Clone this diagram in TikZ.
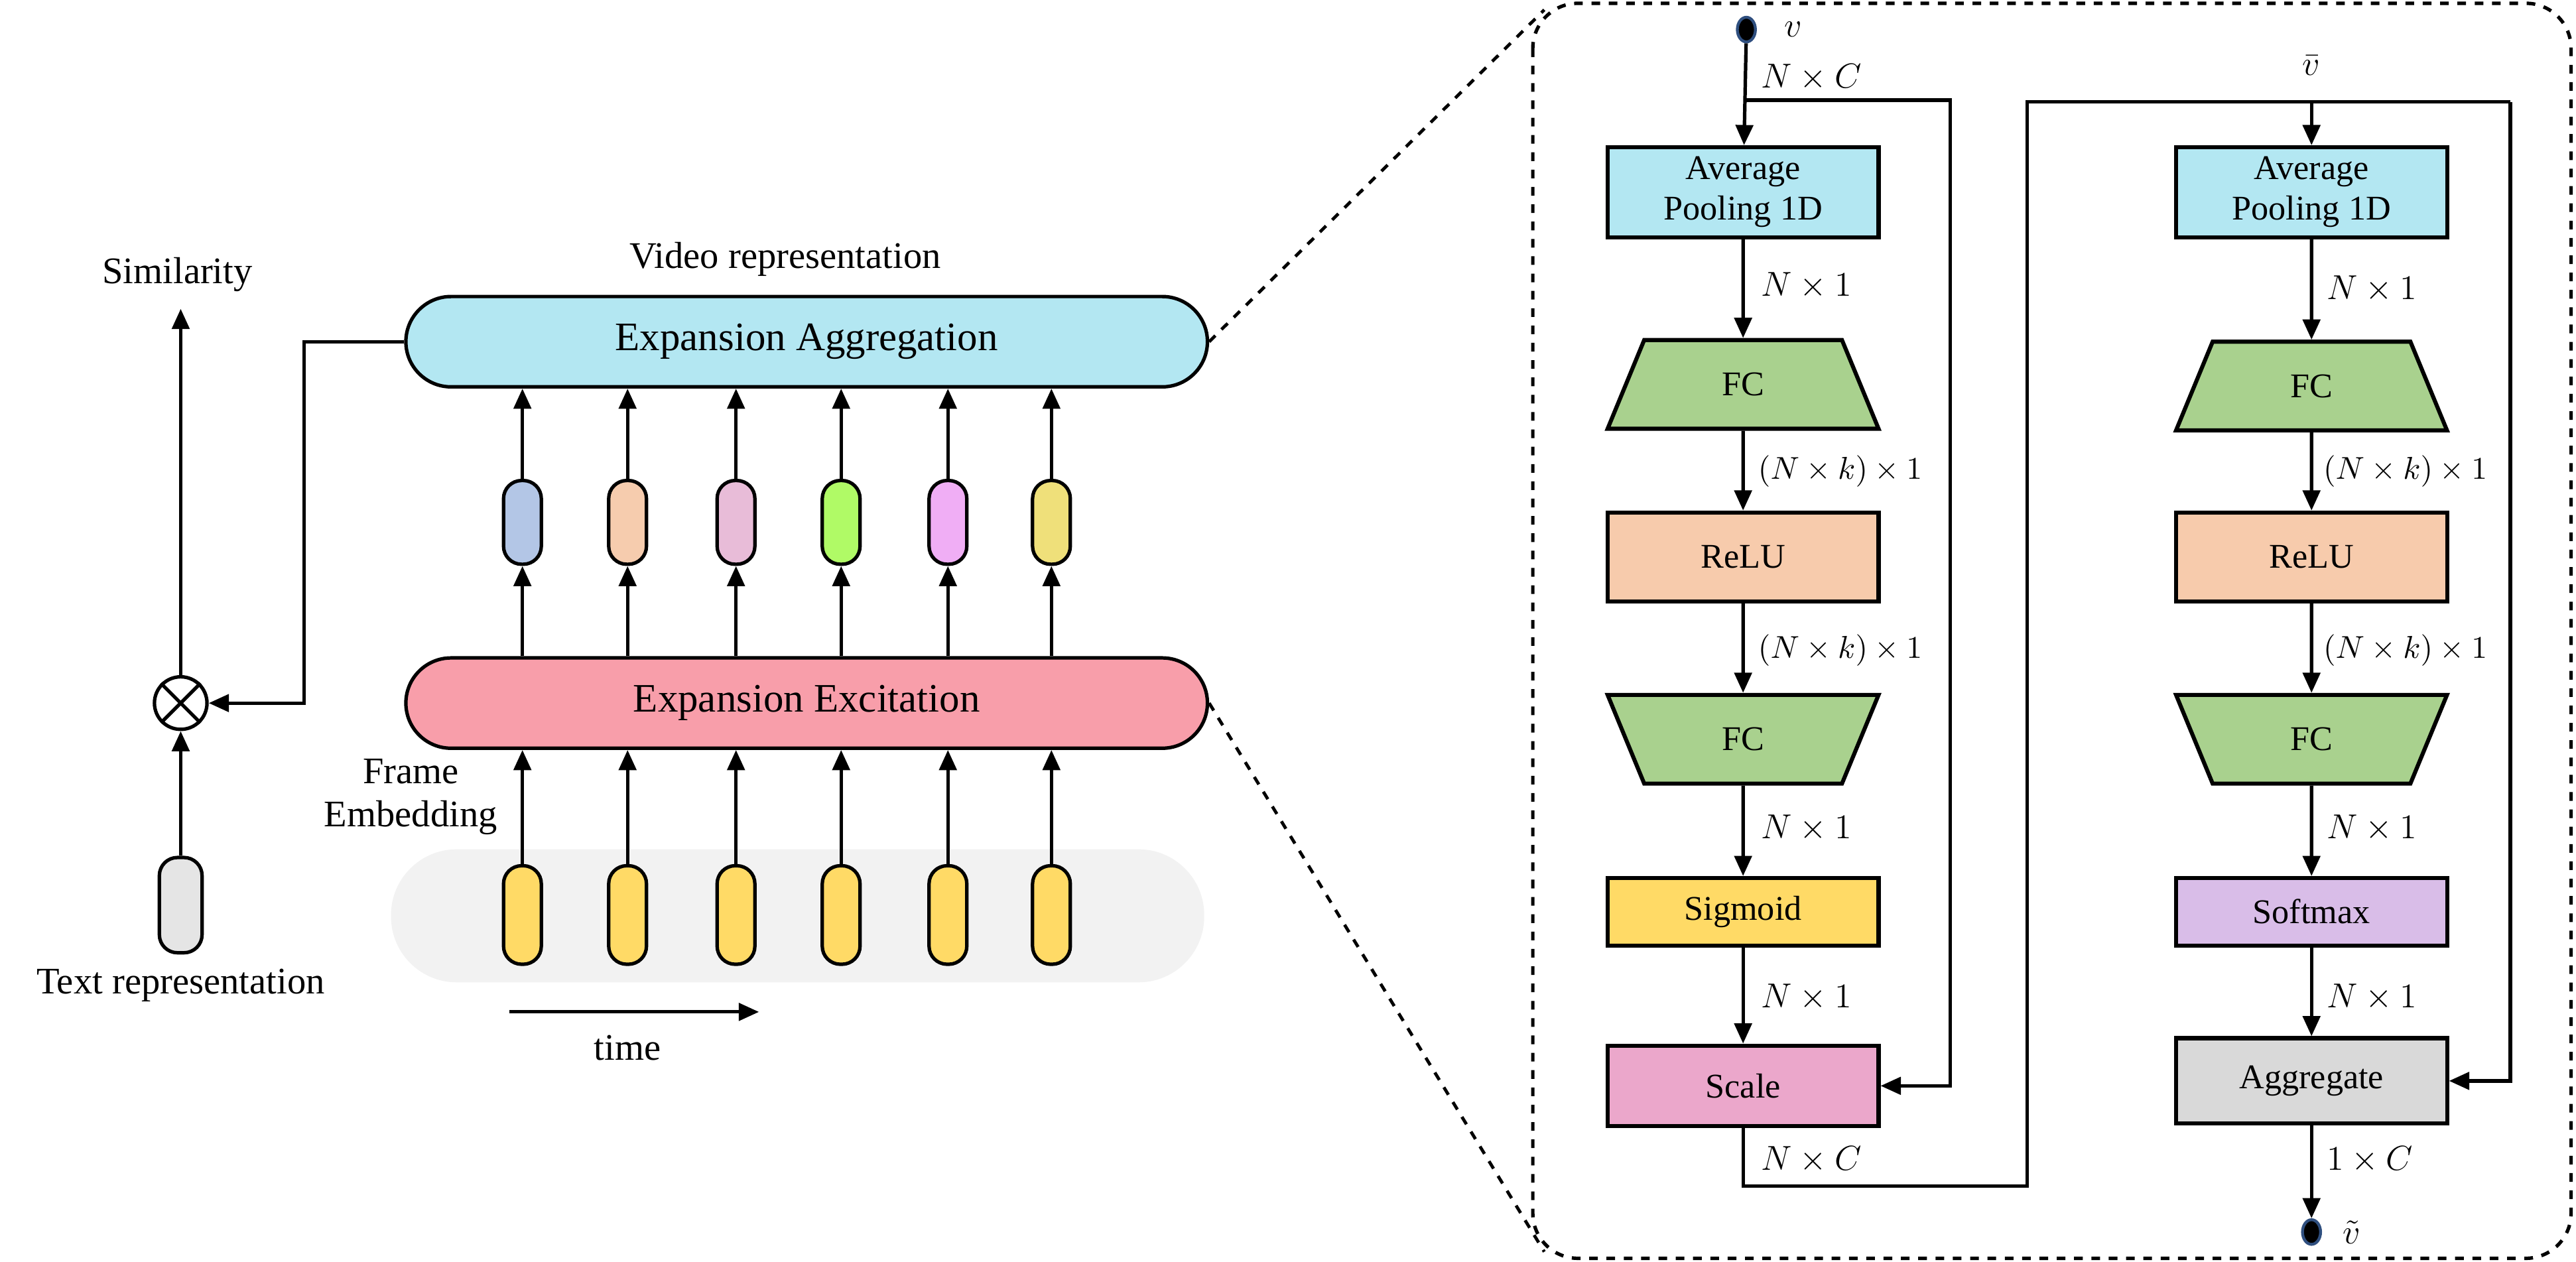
\documentclass[tikz,border=0pt]{standalone}
\usepackage{fontspec}
\setmainfont{Liberation Serif}
\usetikzlibrary{shapes.geometric,arrows.meta}
\definecolor{aggblue}{HTML}{B3E7F2}
\definecolor{excpink}{HTML}{F89EAA}
\definecolor{frameyel}{HTML}{FFDA66}
\definecolor{fcgreen}{HTML}{A9D18E}
\definecolor{relupeach}{HTML}{F7CBAC}
\definecolor{scalepink}{HTML}{EBA7CB}
\definecolor{softlilac}{HTML}{D9BDE8}
\definecolor{agggray}{HTML}{D9D9D9}
\definecolor{dotblue}{HTML}{2F4F7F}
\tikzset{
  flow/.style={-{Triangle[length=7pt,width=6pt]},line width=1.2pt},
  bar/.style={draw,line width=1.2pt,rounded corners=0.55cm,minimum width=9.76cm,minimum height=1.1cm,font=\fontsize{14}{16}\selectfont},
  pill/.style={draw,line width=1.2pt,rounded corners=0.22cm,minimum width=0.46cm,minimum height=1.02cm,inner sep=0pt},
  blk/.style={draw,line width=1.4pt,minimum width=3.3cm,minimum height=1.08cm,align=center,font=\fontsize{12}{14}\selectfont},
  fc/.style={blk,trapezium,trapezium stretches=true,trapezium angle=75,fill=fcgreen},
  dim/.style={font=\fontsize{13}{15}\selectfont,anchor=west},
  dimk/.style={font=\fontsize{11}{13}\selectfont,anchor=west},
  dot/.style={ellipse,fill=black,draw=dotblue,line width=1pt,minimum width=0.22cm,minimum height=0.3cm,inner sep=0pt},
  lbl/.style={font=\fontsize{13}{15}\selectfont,align=center}
}
\begin{document}
\begin{tikzpicture}[x=0.02cm,y=-0.02cm]
\useasboundingbox (0,0) rectangle (1568,768);
% left part
\fill[black!5,rounded corners=0.8cm] (238,517) rectangle (733,598);
\node[bar,fill=aggblue] (agg) at (491,208) {Expansion Aggregation};
\node[bar,fill=excpink] (exc) at (491,428) {Expansion Excitation};
\node[lbl] (vid) at (478,158) {Video representation};
\foreach \i/\x/\c in {1/318/B3C6E6,2/382/F6CCAE,3/448/E8BCD8,4/512/B0FA66,5/577/F0AEF5,6/640/EFE07A}{
  \definecolor{c\i}{HTML}{\c}
  \node[pill,fill=c\i] (e\i) at (\x,318) {};
  \node[pill,fill=frameyel,minimum height=1.2cm] (f\i) at (\x,557) {};
  \draw[flow] (f\i) -- (f\i |- exc.south);
  \draw[flow] (e\i |- exc.north) -- (e\i);
  \draw[flow] (e\i) -- (e\i |- agg.south);
}
\node[lbl] (fe) at (250,485) {Frame\\Embedding};
\coordinate (t0) at (310,616);
\coordinate (t1) at (462,616);
\draw[flow] (t0) -- (t1);
\node[lbl] (time) at (382,638) {time};
\node[pill,fill=black!10,minimum height=1.16cm,minimum width=0.52cm] (txt) at (110,551) {};
\node[lbl] (txtl) at (110,600) {Text representation};
\node[draw,circle,line width=1.2pt,minimum size=0.64cm,inner sep=0pt] (mul) at (110,428) {};
\draw[line width=1.2pt] (mul.north west) -- (mul.south east) (mul.north east) -- (mul.south west);
\node[lbl] (sim) at (108,167) {Similarity};
\coordinate (simtip) at (110,188);
\draw[flow] (txt) -- (mul);
\draw[flow] (mul) -- (simtip);
\draw[flow] (agg.west) -| (185,428) -- (mul.east);
% zoom panel
\draw[dashed,line width=1.2pt,rounded corners=0.55cm] (933,2) rectangle (1565,766);
\draw[dashed,line width=1.1pt] (agg.east) -- (940,6);
\draw[dashed,line width=1.1pt] (exc.east) -- (940,762);
% left column
\node[dot] (vin) at (1063,18) {};
\node[lbl,anchor=west] at (1080,18) {$v$};
\node[blk,fill=aggblue] (p1) at (1061,117) {Average\\Pooling 1D};
\node[fc] (fa1) at (1061,234) {FC};
\node[blk,fill=relupeach] (r1) at (1061,339) {ReLU};
\node[fc,shape border rotate=180] (fb1) at (1061,450) {FC};
\node[blk,fill=frameyel,minimum height=0.82cm] (sg) at (1061,555) {Sigmoid};
\node[blk,fill=scalepink,minimum height=0.98cm] (sc) at (1061,661) {Scale};
\draw[flow] (vin) -- (p1);
\draw[flow] (p1) -- (fa1);
\draw[flow] (fa1) -- (r1);
\draw[flow] (r1) -- (fb1);
\draw[flow] (fb1) -- (sg);
\draw[flow] (sg) -- (sc);
\draw[flow] (1063,61) -| (1187,661) -- (sc.east);
\node[dim] at (1066,47) {$N\times C$};
\node[dim] at (1066,174) {$N\times1$};
\node[dimk] at (1064,287) {$(N\times k)\times1$};
\node[dimk] at (1064,396) {$(N\times k)\times1$};
\node[dim] at (1066,504) {$N\times1$};
\node[dim] at (1066,607) {$N\times1$};
\node[dim] at (1066,706) {$N\times C$};
% right column
\node[blk,fill=aggblue] (p2) at (1407,117) {Average\\Pooling 1D};
\node[fc] (fa2) at (1407,235) {FC};
\node[blk,fill=relupeach] (r2) at (1407,339) {ReLU};
\node[fc,shape border rotate=180] (fb2) at (1407,450) {FC};
\node[blk,fill=softlilac,minimum height=0.82cm] (sm) at (1407,555) {Softmax};
\node[blk,fill=agggray,minimum height=1.04cm] (ag) at (1407,658) {Aggregate};
\node[dot] (vout) at (1407,750) {};
\node[lbl,anchor=west] at (1420,750) {$\tilde{v}$};
\node[lbl] at (1407,40) {$\bar{v}$};
\draw[line width=1.2pt] (sc.south) -- (1061,722) -| (1234,62) -- (1528,62);
\draw[flow] (1528,62) |- (ag.east);
\draw[flow] (1407,62) -- (p2);
\draw[flow] (p2) -- (fa2);
\draw[flow] (fa2) -- (r2);
\draw[flow] (r2) -- (fb2);
\draw[flow] (fb2) -- (sm);
\draw[flow] (sm) -- (ag);
\draw[flow] (ag) -- (vout);
\node[dim] at (1410,176) {$N\times1$};
\node[dimk] at (1408,287) {$(N\times k)\times1$};
\node[dimk] at (1408,396) {$(N\times k)\times1$};
\node[dim] at (1410,504) {$N\times1$};
\node[dim] at (1410,607) {$N\times1$};
\node[dim] at (1410,706) {$1\times C$};
\end{tikzpicture}
\end{document}
